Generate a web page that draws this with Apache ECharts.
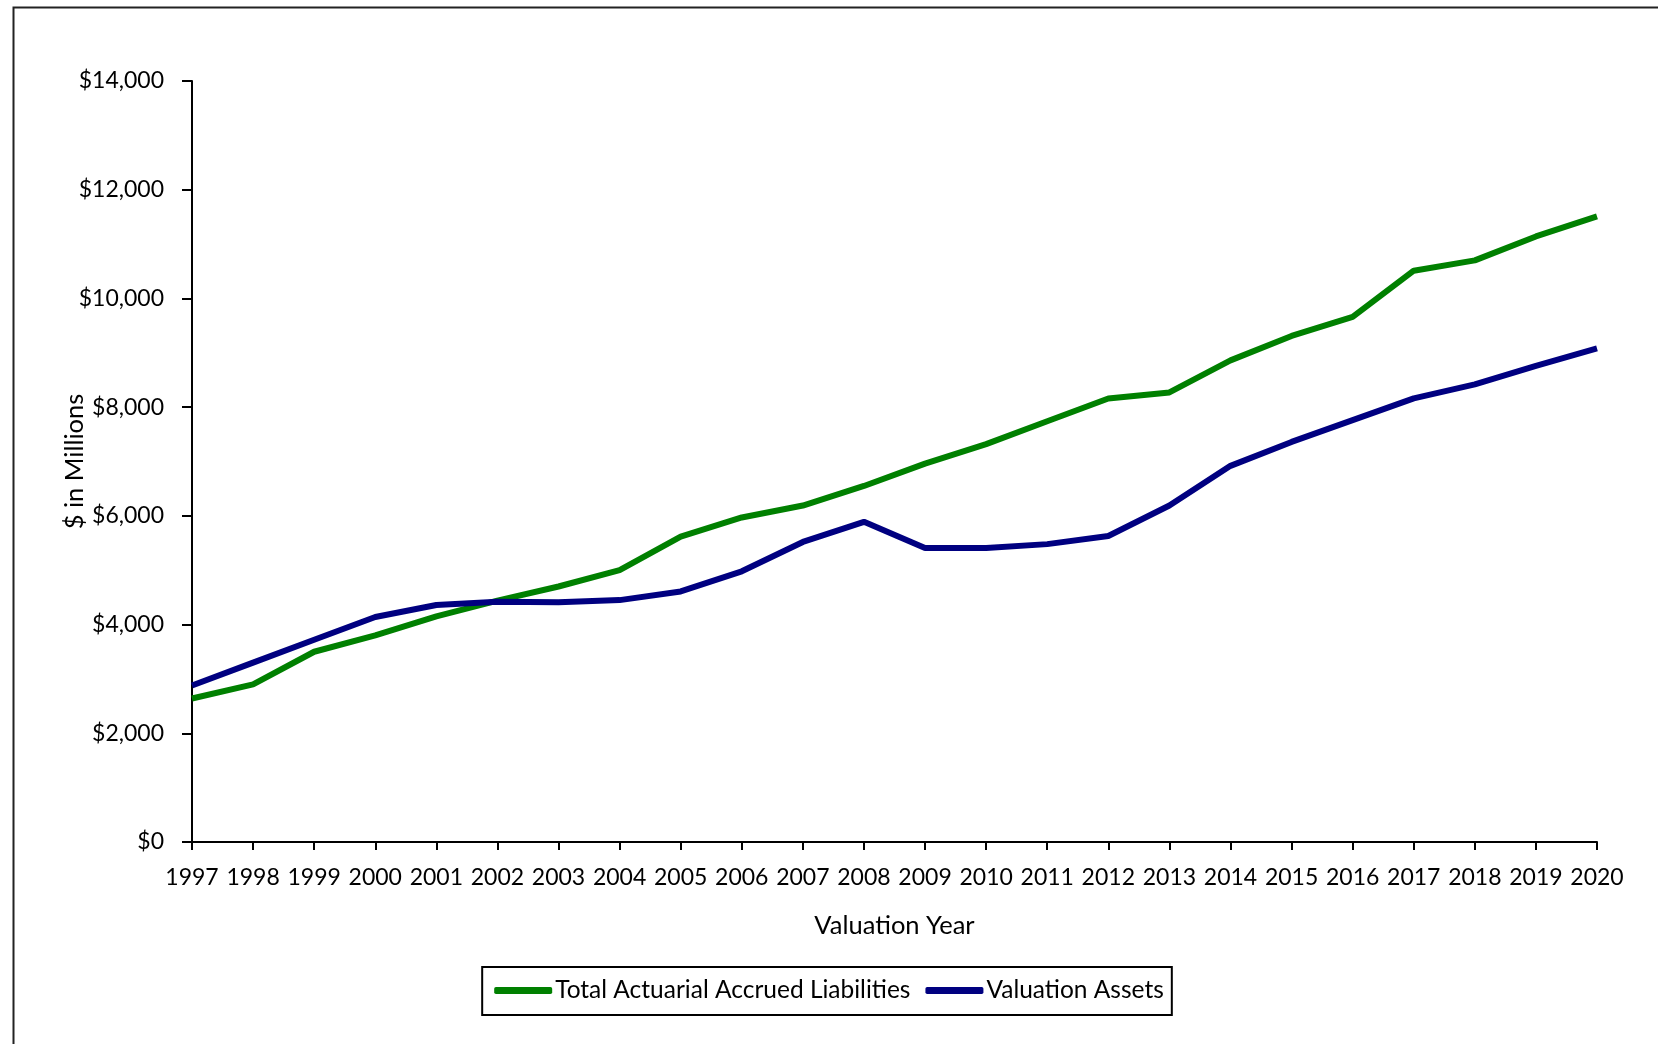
<!DOCTYPE html>
<html>
<head>
<meta charset="utf-8">
<script src="https://cdn.jsdelivr.net/npm/echarts@6/dist/echarts.min.js"></script>
<style>
html,body{margin:0;padding:0;background:#fff;}
#chart{width:1658px;height:1044px;}
</style>
</head>
<body>
<div id="chart"></div>
<script>
const years = ['1997','1998','1999','2000','2001','2002','2003','2004','2005','2006','2007','2008','2009','2010','2011','2012','2013','2014','2015','2016','2017','2018','2019','2020'];
const liabilities = [2640,2900,3500,3800,4150,4440,4700,5000,5620,5970,6190,6550,6960,7320,7740,8160,8270,8860,9310,9660,10510,10700,11140,11510];
const assets = [2880,3300,3720,4140,4360,4420,4410,4450,4610,4980,5520,5890,5410,5410,5480,5630,6190,6920,7360,7760,8160,8420,8760,9080];
const seriesNames = ['Total Actuarial Accrued Liabilities','Valuation Assets'];
const yTicks = {min:0, max:14000, interval:2000};

const FONT = 'Lato';
const chart = echarts.init(document.getElementById('chart'), null, {renderer:'canvas'});
chart.setOption({
  animation:false,
  backgroundColor:'#ffffff',
  textStyle:{fontFamily:FONT, color:'#000'},
  graphic:[{
    type:'rect', left:11, top:5,
    shape:{width:1700, height:1100},
    style:{fill:'none', stroke:'#222', lineWidth:2}, silent:true, z:-1
  }],
  grid:{left:192, right:61, top:81, bottom:202, containLabel:false},
  legend:{
    data:seriesNames,
    bottom:29, left:'center',
    icon:'roundRect',
    itemWidth:58, itemHeight:7, itemGap:15,
    borderColor:'#000', borderWidth:2,
    padding:[11,8,12,12],
    textStyle:{fontFamily:FONT, fontSize:24.5, color:'#000', padding:[0,0,0,-2]}
  },
  xAxis:{
    type:'category', data:years, boundaryGap:false,
    name:'Valuation Year', nameLocation:'middle', nameGap:71, nameMoveOverlap:false,
    nameTextStyle:{fontFamily:FONT, fontSize:25.5, color:'#000'},
    axisLine:{lineStyle:{color:'#000', width:2}},
    axisTick:{show:true, length:8, alignWithLabel:true, lineStyle:{color:'#000', width:2}},
    axisLabel:{fontFamily:FONT, fontSize:23, color:'#000', margin:24, interval:0}
  },
  yAxis:{
    type:'value', min:yTicks.min, max:yTicks.max, interval:yTicks.interval,
    name:'$ in Millions', nameLocation:'middle', nameGap:104, nameMoveOverlap:false,
    nameTextStyle:{fontFamily:FONT, fontSize:25.5, color:'#000'},
    axisLine:{show:true, lineStyle:{color:'#000', width:2}},
    axisTick:{show:true, length:10, lineStyle:{color:'#000', width:2}},
    splitLine:{show:false},
    axisLabel:{fontFamily:FONT, fontSize:23, color:'#000', margin:28,
      formatter:function(v){return '$'+v.toLocaleString('en-US');}}
  },
  series:[
    {name:seriesNames[0], type:'line', data:liabilities, showSymbol:false, symbol:'none',
     lineStyle:{color:'#008000', width:6}, itemStyle:{color:'#008000'}},
    {name:seriesNames[1], type:'line', data:assets, showSymbol:false, symbol:'none',
     lineStyle:{color:'#000080', width:6}, itemStyle:{color:'#000080'}}
  ]
});
</script>
</body>
</html>
